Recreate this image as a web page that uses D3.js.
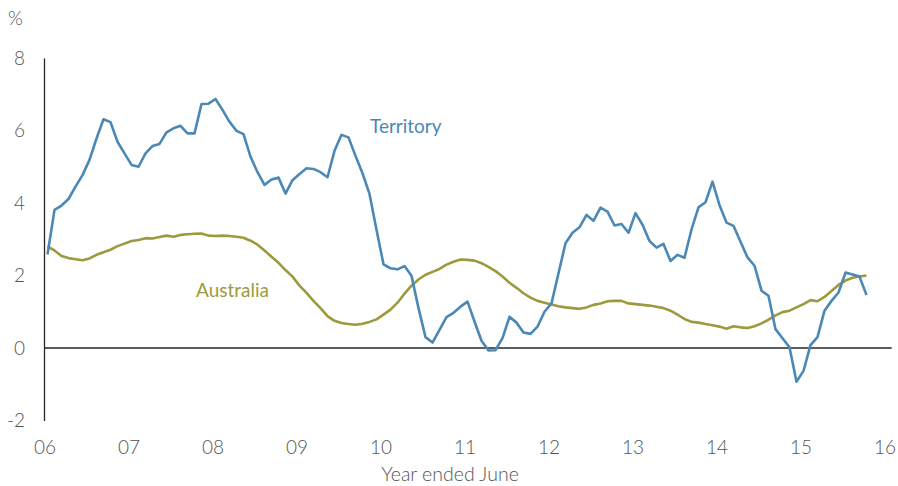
<!DOCTYPE html>
<html>
<head>
<meta charset="utf-8">
<script src="https://cdn.jsdelivr.net/npm/d3@7"></script>
<style>
  html, body { margin: 0; padding: 0; background: #fff; }
  svg { display: block; font-family: Lato, "Open Sans", sans-serif; }
</style>
</head>
<body>
<svg id="chart" width="898" height="486"></svg>
<script>
// Territory vs Australia, year-ended growth, monthly from mid-2006
const yearTicks = ["06", "07", "08", "09", "10", "11", "12", "13", "14", "15", "16"];
const yTicks = [-2, 0, 2, 4, 6, 8];

const territory = [
  2.58, 3.81, 3.93, 4.11, 4.45, 4.77, 5.19, 5.78, 6.31, 6.23, 5.69, 5.37,
  5.05, 5.00, 5.37, 5.57, 5.63, 5.95, 6.06, 6.13, 5.92, 5.92, 6.73, 6.74,
  6.87, 6.57, 6.24, 5.99, 5.90, 5.28, 4.85, 4.50, 4.65, 4.70, 4.26, 4.63,
  4.80, 4.96, 4.94, 4.85, 4.71, 5.44, 5.88, 5.81, 5.30, 4.82, 4.25, 3.26,
  2.31, 2.20, 2.17, 2.26, 1.99, 1.10, 0.30, 0.15, 0.50, 0.85, 0.97, 1.14,
  1.28, 0.73, 0.20, -0.07, -0.06, 0.27, 0.86, 0.70, 0.43, 0.39, 0.59, 1.00,
  1.23, 2.06, 2.89, 3.18, 3.33, 3.67, 3.51, 3.87, 3.76, 3.38, 3.42, 3.18,
  3.72, 3.40, 2.95, 2.77, 2.87, 2.40, 2.57, 2.49, 3.27, 3.88, 4.02, 4.59,
  3.94, 3.46, 3.37, 2.93, 2.50, 2.27, 1.58, 1.44, 0.52, 0.27, 0.02, -0.93,
  -0.63, 0.08, 0.30, 1.03, 1.30, 1.53, 2.08, 2.03, 1.97, 1.46
];

const australia = [
  2.80, 2.69, 2.54, 2.48, 2.45, 2.42, 2.47, 2.57, 2.64, 2.71, 2.81, 2.88,
  2.95, 2.98, 3.03, 3.02, 3.06, 3.10, 3.07, 3.12, 3.14, 3.15, 3.16, 3.10,
  3.09, 3.10, 3.09, 3.07, 3.04, 2.96, 2.85, 2.69, 2.52, 2.35, 2.15, 1.97,
  1.72, 1.52, 1.30, 1.10, 0.88, 0.75, 0.69, 0.66, 0.64, 0.67, 0.72, 0.79,
  0.92, 1.06, 1.25, 1.50, 1.72, 1.89, 2.02, 2.10, 2.18, 2.30, 2.38, 2.44,
  2.43, 2.41, 2.34, 2.24, 2.12, 1.97, 1.80, 1.66, 1.51, 1.39, 1.30, 1.25,
  1.20, 1.15, 1.12, 1.10, 1.08, 1.12, 1.19, 1.23, 1.29, 1.30, 1.30, 1.23,
  1.21, 1.19, 1.17, 1.14, 1.10, 1.03, 0.92, 0.80, 0.72, 0.70, 0.66, 0.63,
  0.59, 0.53, 0.60, 0.57, 0.55, 0.60, 0.68, 0.78, 0.90, 0.99, 1.03, 1.12,
  1.21, 1.32, 1.29, 1.41, 1.57, 1.74, 1.86, 1.94, 1.97, 2.00
];

const BLUE = "#4b88b6", OLIVE = "#9c9a3c", GREY = "#555555", AXIS = "#262626";

const svg = d3.select("#chart");
const x = d3.scaleLinear().domain([0, 120]).range([44, 884]);
const y = d3.scaleLinear().domain([-2, 8]).range([420.5, 58]);

// y axis (line + labels)
const yAxis = svg.append("g")
  .attr("transform", `translate(${x(0)},0)`)
  .call(d3.axisLeft(y).tickValues(yTicks).tickSize(0).tickPadding(19).tickFormat(d => String(d)));
yAxis.select(".domain").attr("stroke", AXIS).attr("stroke-width", 1.3);
yAxis.selectAll("text")
  .attr("fill", GREY).style("font-size", "19px").style("font-weight", 300)
  .style("font-family", "Lato, sans-serif");

// zero line
svg.append("line")
  .attr("x1", x(0)).attr("x2", x(121.1))
  .attr("y1", y(0)).attr("y2", y(0))
  .attr("stroke", AXIS).attr("stroke-width", 1.3);

// x tick labels
svg.append("g").selectAll("text").data(yearTicks).join("text")
  .attr("x", (d, i) => x(i * 12) + 1)
  .attr("y", 454)
  .attr("text-anchor", "middle")
  .attr("fill", GREY).style("font-size", "19px").style("font-weight", 300)
  .text(d => d);

svg.append("text")
  .attr("x", 450).attr("y", 481)
  .attr("text-anchor", "middle")
  .attr("fill", GREY).style("font-size", "19.5px").style("font-weight", 300)
  .text("Year ended June");

svg.append("text")
  .attr("x", 8).attr("y", 25)
  .attr("fill", GREY).style("font-size", "19px").style("font-weight", 300)
  .text("%");

// series
const line = d3.line().x((d, i) => x(i + 0.5)).y(d => y(d));
svg.append("path").datum(australia)
  .attr("d", line).attr("fill", "none")
  .attr("stroke", OLIVE).attr("stroke-width", 2.6).attr("stroke-linejoin", "round");
svg.append("path").datum(territory)
  .attr("d", line).attr("fill", "none")
  .attr("stroke", BLUE).attr("stroke-width", 2.6).attr("stroke-linejoin", "round");

// direct labels
svg.append("text").attr("x", 370).attr("y", 133)
  .attr("fill", BLUE).style("font-size", "19px").text("Territory");
svg.append("text").attr("x", 196).attr("y", 297)
  .attr("fill", OLIVE).style("font-size", "19px").text("Australia");
</script>
</body>
</html>
